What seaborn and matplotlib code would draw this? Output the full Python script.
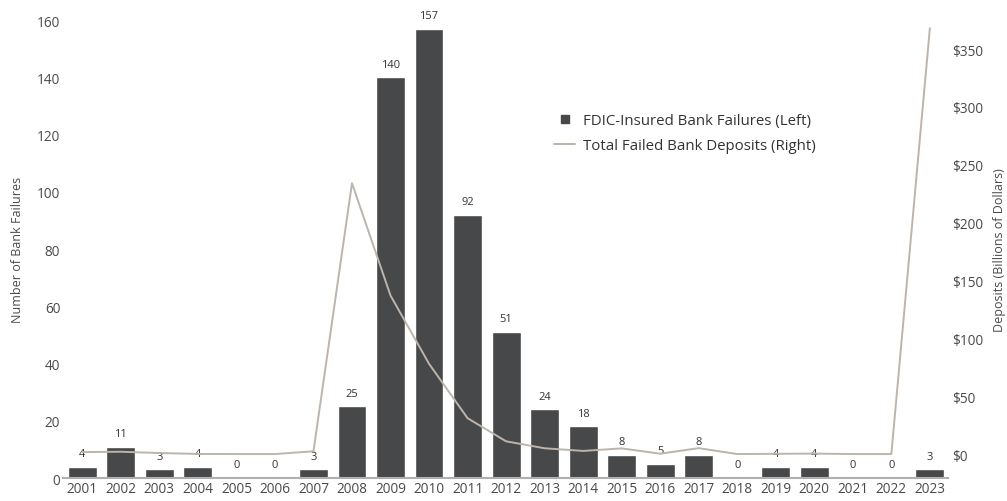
import matplotlib
matplotlib.use("Agg")
import matplotlib.pyplot as plt
from matplotlib.lines import Line2D
import seaborn as sns
import pandas as pd
import numpy as np

years = [str(y) for y in range(2001, 2024)]
failures = [4, 11, 3, 4, 0, 0, 3, 25, 140, 157, 92, 51, 24, 18, 8, 5, 8, 0, 4, 4, 0, 0, 3]
deposits = [1.7, 2.0, 0.9, 0.1, 0, 0, 2.4, 234, 137, 78, 31, 11, 5, 2.7, 4.9, 0.3, 5.1,
            0, 0.2, 0.4, 0, 0, 368]
left_ticks = [0, 20, 40, 60, 80, 100, 120, 140, 160]
right_ticks = [0, 50, 100, 150, 200, 250, 300, 350]

df = pd.DataFrame({"year": years, "failures": failures, "deposits": deposits})

sns.set_theme(style="white")
plt.rcParams["font.family"] = ["Open Sans", "DejaVu Sans"]

bar_color = "#474849"
line_color = "#bdb4ab"
text_color = "#4a4a4a"

fig = plt.figure(figsize=(10.07, 5.02), dpi=100)
ax = fig.add_axes([0.0626, 0.0458, 0.8788, 0.9122])

sns.barplot(data=df, x="year", y="failures", color=bar_color, width=0.75,
            saturation=1, ax=ax, zorder=2)
ax.set_xlim(-0.5, 22.47)
ax.set_ylim(0, 160)
ax.set_yticks(left_ticks)
ax.set_xlabel("")
ax.set_ylabel("Number of Bank Failures", fontsize=9, color=text_color, labelpad=9)
ax.tick_params(axis="both", length=0, labelsize=9.8, colors=text_color)
ax.tick_params(axis="x", pad=2)
ax.tick_params(axis="y", pad=2)
for s in ["top", "right", "left"]:
    ax.spines[s].set_visible(False)
ax.spines["bottom"].set_color("#b0b0b0")
ax.spines["bottom"].set_linewidth(1.5)

for i, v in enumerate(failures):
    ax.annotate(str(v), (i, v), xytext=(0, 9.5), textcoords="offset points",
                ha="center", va="center", fontsize=8, color="#333333", zorder=5)

ax2 = ax.twinx()
sns.lineplot(x=np.arange(len(years)), y=deposits, ax=ax2, color=line_color,
             linewidth=1.4, zorder=3)
ax2.set_ylim(-20.7, 375)
ax2.set_yticks(right_ticks)
ax2.set_yticklabels([f"${t}" for t in right_ticks])
ax2.set_ylabel("Deposits (Billions of Dollars)", fontsize=9, color=text_color, labelpad=7)
ax2.tick_params(axis="y", length=0, labelsize=9.8, colors=text_color, pad=3)
for s in ["top", "right", "left", "bottom"]:
    ax2.spines[s].set_visible(False)

handles = [
    Line2D([], [], marker="s", linestyle="none", color=bar_color, markersize=6),
    Line2D([], [], color=line_color, linewidth=1.4),
]
labels = ["FDIC-Insured Bank Failures (Left)", "Total Failed Bank Deposits (Right)"]
fig.legend(handles, labels, loc="upper left", bbox_to_anchor=(0.537, 0.80),
           frameon=False, fontsize=10.8, handlelength=1.4, handletextpad=0.5,
           labelspacing=0.7, labelcolor="#333333")

fig.savefig("out.png", dpi=100)
